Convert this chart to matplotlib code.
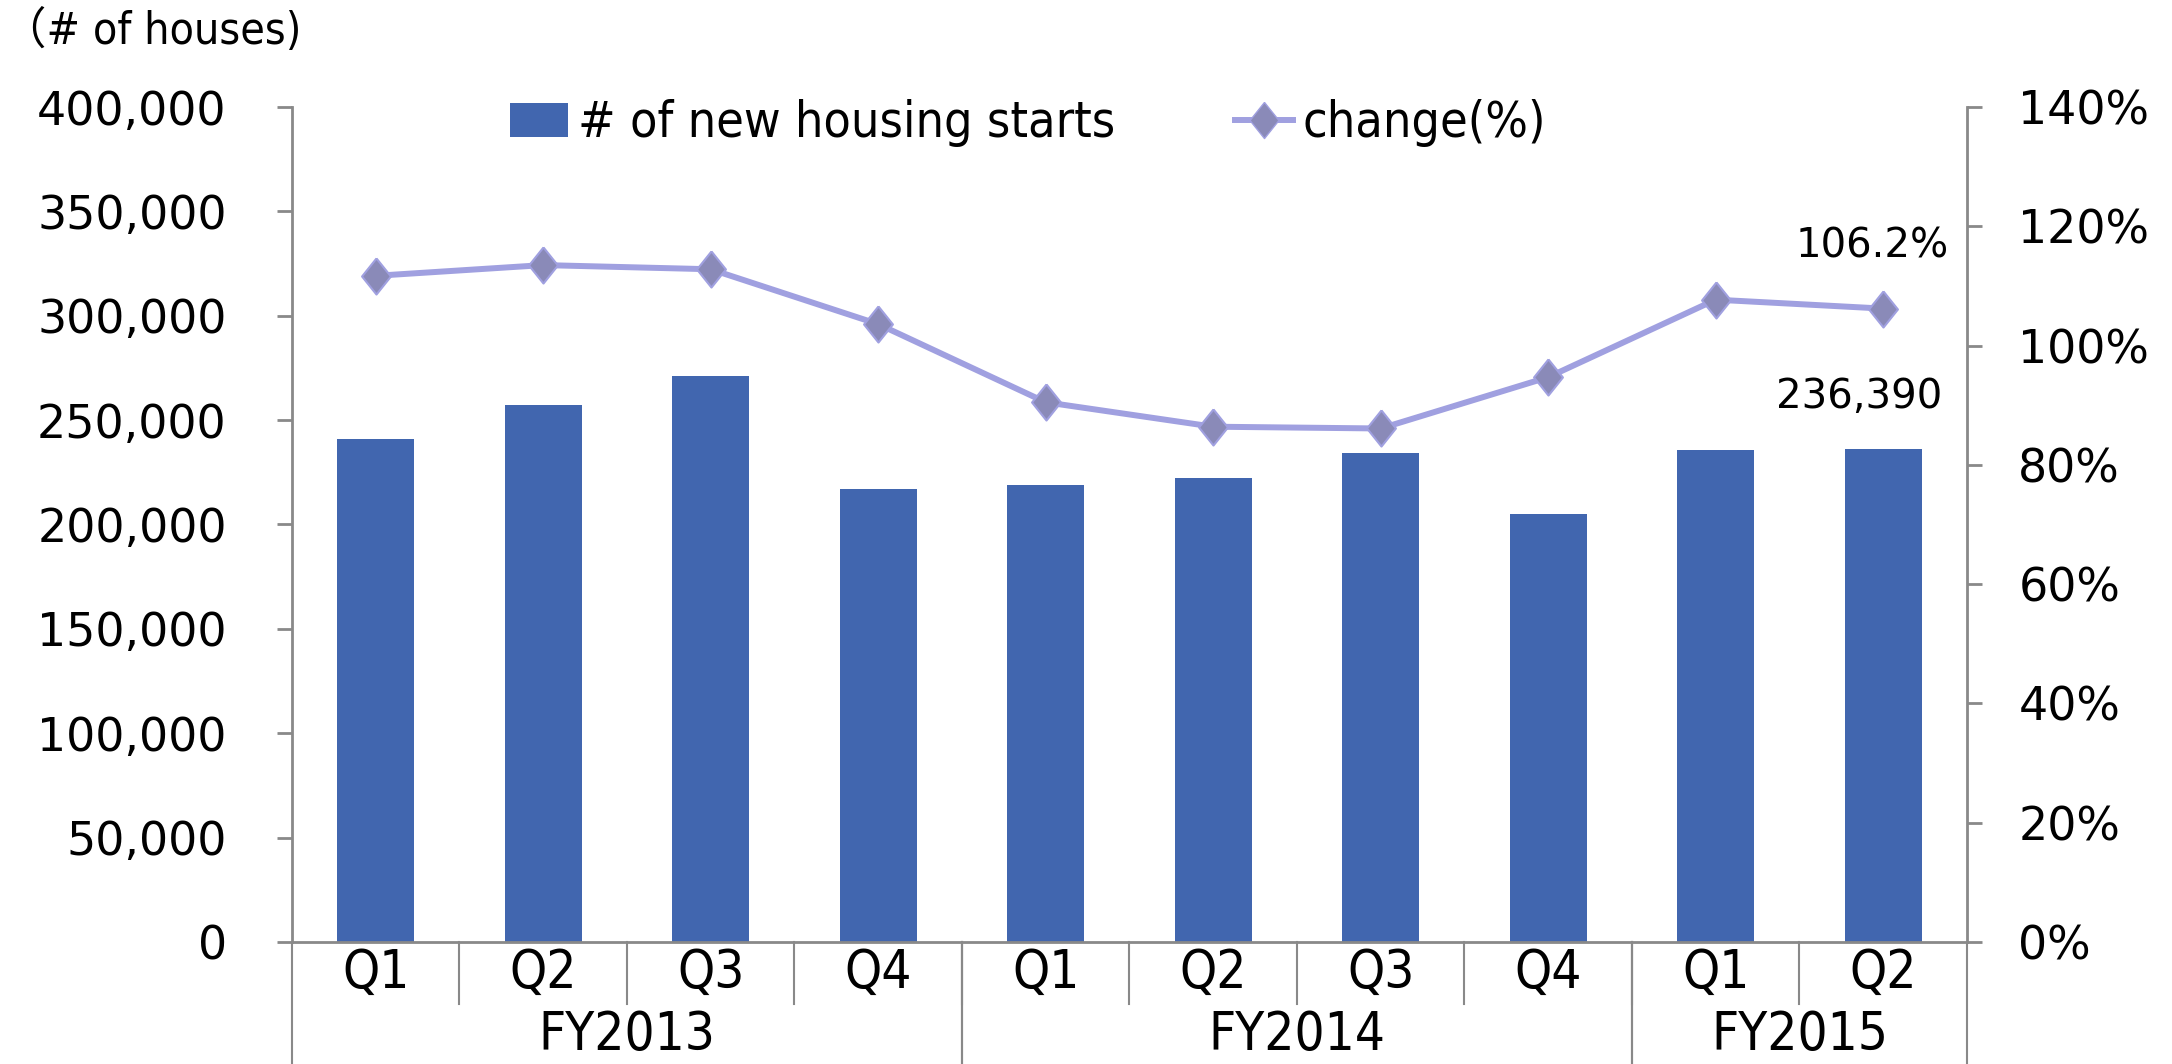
import matplotlib.pyplot as plt
from matplotlib.ticker import FuncFormatter, MultipleLocator
from matplotlib.lines import Line2D
from matplotlib.patches import Patch
from matplotlib.font_manager import FontProperties

quarters = ['Q1', 'Q2', 'Q3', 'Q4', 'Q1', 'Q2', 'Q3', 'Q4', 'Q1', 'Q2']
fiscal_years = ['FY2013', 'FY2014', 'FY2015']
fy_quarters = [4, 4, 2]
housing_starts = [240800, 257400, 271300, 216900, 218900,
                  222200, 234200, 205000, 235500, 236390]
change_pct = [111.7, 113.5, 112.8, 103.6, 90.5, 86.4, 86.1, 94.7, 107.7, 106.2]

bar_color = '#4166af'
line_color = '#a0a0e0'
marker_color = '#8a8ab8'
axis_color = '#898989'


def narrow(size):
    return FontProperties(family=['DejaVu Sans'], stretch='condensed', size=size)


fig = plt.figure(figsize=(21.72, 10.64), dpi=100)
ax = fig.add_axes([0.1344, 0.1147, 0.7712, 0.7847])
ax2 = ax.twinx()

x = list(range(len(quarters)))
ax.bar(x, housing_starts, width=0.46, color=bar_color, zorder=2)

diamond = [(0, 1), (0.8, 0), (0, -1), (-0.8, 0), (0, 1)]
ax2.plot(x, change_pct, color=line_color, lw=4.3, marker=diamond,
         markersize=26, markerfacecolor=marker_color,
         markeredgecolor=line_color, markeredgewidth=1.5, zorder=3)

ax.set_xlim(-0.5, len(quarters) - 0.5)
ax.set_ylim(0, 400000)
ax2.set_ylim(0, 140)
ax.yaxis.set_major_locator(MultipleLocator(50000))
ax2.yaxis.set_major_locator(MultipleLocator(20))
ax.yaxis.set_major_formatter(FuncFormatter(lambda v, p: f'{int(v):,}'))
ax2.yaxis.set_major_formatter(FuncFormatter(lambda v, p: f'{int(v)}%'))

for a in (ax, ax2):
    for s in a.spines.values():
        s.set_visible(False)
ax.spines['left'].set_visible(True)
ax.spines['bottom'].set_visible(True)
ax2.spines['right'].set_visible(True)
for s in (ax.spines['left'], ax.spines['bottom'], ax2.spines['right']):
    s.set_color(axis_color)
    s.set_linewidth(2)

ax.set_xticks([])
ax.tick_params(axis='y', direction='out', length=11, width=2, color=axis_color,
               labelsize=33, pad=36)
ax2.tick_params(axis='y', direction='out', length=11, width=2, color=axis_color,
                labelsize=33, pad=26)

# two-level category axis: quarters then fiscal years
for i, q in enumerate(quarters):
    ax.text(i, -0.037, q, transform=ax.get_xaxis_transform(), ha='center',
            va='center', fontproperties=narrow(38))
for i in range(1, len(quarters)):
    ax.plot([i - 0.5, i - 0.5], [0, -0.074], color=axis_color, lw=1.5,
            transform=ax.get_xaxis_transform(), clip_on=False)
start = 0
for fy, n in zip(fiscal_years, fy_quarters):
    ax.text(start + n / 2 - 0.5, -0.111, fy, transform=ax.get_xaxis_transform(),
            ha='center', va='center', fontproperties=narrow(38))
    for edge in (start - 0.5, start + n - 0.5):
        ax.plot([edge, edge], [0, -0.2], color=axis_color, lw=1.5,
                transform=ax.get_xaxis_transform(), clip_on=False)
    start += n

# value labels on the last quarter
ax2.annotate(f'{change_pct[-1]:.1f}%', (x[-1], change_pct[-1]),
             xytext=(-8, 45), textcoords='offset points', ha='center',
             va='center', fontsize=29)
ax.annotate(f'{housing_starts[-1]:,}', (x[-1], housing_starts[-1]),
            xytext=(-17, 37), textcoords='offset points', ha='center',
            va='center', fontsize=29)

fig.text(0.001, 0.971, '（# of houses)', ha='left', va='center', fontsize=32,
         family=['DejaVu Sans', 'Noto Sans CJK JP'], stretch='condensed')

handles = [Patch(facecolor=bar_color),
           Line2D([], [], color=line_color, lw=4.3, marker=diamond,
                  markersize=26, markerfacecolor=marker_color,
                  markeredgecolor=line_color)]
fig.legend(handles, ['# of new housing starts', 'change(%)'], ncol=2,
           loc='center left', bbox_to_anchor=(0.2143, 0.884), frameon=False,
           prop=narrow(36), handlelength=1.15,
           handleheight=0.65, handletextpad=0.2, columnspacing=2.4)

fig.savefig('out.png', dpi=100)
